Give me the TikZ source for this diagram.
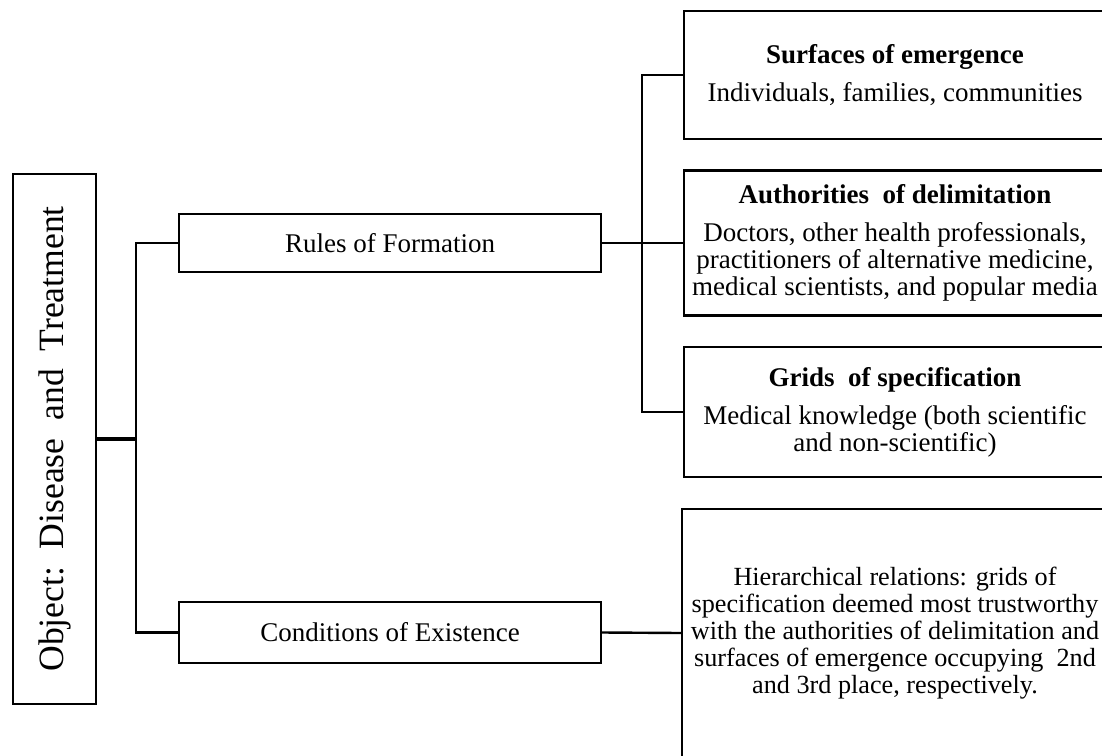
\documentclass[tikz,border=0pt]{standalone}
\usepackage{fontspec}
\setmainfont{Liberation Serif}
\usepackage{tikz}
\usetikzlibrary{positioning}

\begin{document}
\begin{tikzpicture}[x=0.5pt, y=-0.5pt,
    % node attributes
    box/.style = {
        draw,
        line width=1.2pt,
        inner sep=0pt,
        align=center,
        font=\fontsize{13.5}{13.5}\selectfont},
    link/.style = {line width=1.2pt}]
    \clip (0,0) rectangle (1102,755);
    % root
    \node[box, rotate=90, minimum width=265pt, minimum height=41.5pt,
        font=\fontsize{17.8}{17.8}\selectfont] (object) at (54.5,439)
        {Object:\ \ Disease\ \ and\ \ Treatment};
    % second level
    \node[box, minimum width=211pt, minimum height=29pt] (rules) at (390,243)
        {Rules of Formation};
    \node[box, minimum width=211pt, minimum height=30.5pt] (cond) at (390,632.5)
        {Conditions of Existence};
    % third level
    \node[box, minimum width=211pt, minimum height=64pt] (surf) at (895,75)
        {\textbf{Surfaces of emergence}\\[5.5pt]
         Individuals,\ families,\ communities};
    \node[box, minimum width=211pt, minimum height=72.5pt] (auth) at (895,243)
        {\textbf{Authorities\ \ of delimitation}\\[5.5pt]
         Doctors, other health professionals,\\
         practitioners of alternative medicine,\\
         medical scientists, and popular media};
    \node[box, minimum width=211pt, minimum height=65pt] (grids) at (895,412)
        {\textbf{Grids\ \ of specification}\\[5.5pt]
         Medical knowledge (both scientific\\
         and non-scientific)};
    \node[box, minimum width=213pt, minimum height=124pt,
        font=\fontsize{13.1}{13.6}\selectfont] (hier) at (895,633)
        {Hierarchical relations: grids of\\
         specification deemed most trustworthy\\
         with the authorities of delimitation and\\
         surfaces of emergence occupying\ \ 2nd\\
         and 3rd place, respectively.};
    % connectors
    \coordinate (trunk) at (137,439);
    \draw[line width=1.6pt] (object.south) -- (trunk);
    \draw[link] (rules.west) -- ++(-42,0) |- (cond.west);
    \draw[link] (rules.east) -- (auth.west);
    \draw[link] (surf.west) -- ++(-41,0) |- (grids.west);
    \draw[link] (cond.east) -- (hier.west);
\end{tikzpicture}
\end{document}
